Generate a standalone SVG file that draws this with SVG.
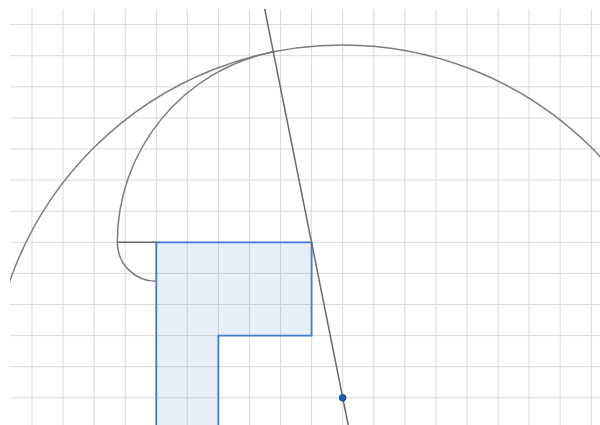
<svg xmlns="http://www.w3.org/2000/svg" width="600" height="425" viewBox="0 0 600 425">
<defs>
<style>
.grid line{stroke:#d9d9d9;stroke-width:1}
.curve{fill:none;stroke:#7d7d7d;stroke-width:1.5}
.ln{fill:none;stroke:#6a6a6a;stroke-width:1.5}
.shape{fill:#2a6fc8;fill-opacity:0.11;stroke:#3b7dd0;stroke-width:1.8;stroke-linejoin:miter}
.pt{fill:#1f62b8;stroke:#123f78;stroke-width:1}
</style>
<clipPath id="c"><rect x="10" y="9" width="590" height="416"/></clipPath>
</defs>
<rect width="600" height="425" fill="#ffffff"/>
<g clip-path="url(#c)">
<g class="grid" id="grid">
<line x1="32" y1="9" x2="32" y2="425"/>
<line x1="63" y1="9" x2="63" y2="425"/>
<line x1="94.1" y1="9" x2="94.1" y2="425"/>
<line x1="125.2" y1="9" x2="125.2" y2="425"/>
<line x1="156.3" y1="9" x2="156.3" y2="425"/>
<line x1="187.3" y1="9" x2="187.3" y2="425"/>
<line x1="218.4" y1="9" x2="218.4" y2="425"/>
<line x1="249.5" y1="9" x2="249.5" y2="425"/>
<line x1="280.6" y1="9" x2="280.6" y2="425"/>
<line x1="311.6" y1="9" x2="311.6" y2="425"/>
<line x1="342.7" y1="9" x2="342.7" y2="425"/>
<line x1="373.8" y1="9" x2="373.8" y2="425"/>
<line x1="404.8" y1="9" x2="404.8" y2="425"/>
<line x1="435.9" y1="9" x2="435.9" y2="425"/>
<line x1="467" y1="9" x2="467" y2="425"/>
<line x1="498.1" y1="9" x2="498.1" y2="425"/>
<line x1="529.1" y1="9" x2="529.1" y2="425"/>
<line x1="560.2" y1="9" x2="560.2" y2="425"/>
<line x1="591.3" y1="9" x2="591.3" y2="425"/>
<line x1="10" y1="24.6" x2="600" y2="24.6"/>
<line x1="10" y1="55.7" x2="600" y2="55.7"/>
<line x1="10" y1="86.8" x2="600" y2="86.8"/>
<line x1="10" y1="117.9" x2="600" y2="117.9"/>
<line x1="10" y1="149" x2="600" y2="149"/>
<line x1="10" y1="180.1" x2="600" y2="180.1"/>
<line x1="10" y1="211.2" x2="600" y2="211.2"/>
<line x1="10" y1="242.3" x2="600" y2="242.3"/>
<line x1="10" y1="273.4" x2="600" y2="273.4"/>
<line x1="10" y1="304.5" x2="600" y2="304.5"/>
<line x1="10" y1="335.6" x2="600" y2="335.6"/>
<line x1="10" y1="366.7" x2="600" y2="366.7"/>
<line x1="10" y1="397.8" x2="600" y2="397.8"/>
</g>
<g id="shape">
<path class="shape" d="M156.3 432 V242.3 H311.6 V335.6 H218.4 V432"/>
</g>
<g id="connectors">
<circle class="curve" cx="342.7" cy="397.8" r="352.8"/>
<path class="curve" d="M273.5 51.8 A194.3 194.3 0 0 0 117.3 242.3"/>
<path class="curve" d="M117.3 242.3 A39 39 0 0 0 156.3 281.3"/>
<line class="ln" x1="117.3" y1="242.3" x2="156.3" y2="242.3"/>
<line class="ln" x1="263.9" y1="5" x2="348.4" y2="426"/>
</g>
</g>
<g id="point">
<circle class="pt" cx="342.7" cy="397.8" r="3.3"/>
</g>
</svg>
